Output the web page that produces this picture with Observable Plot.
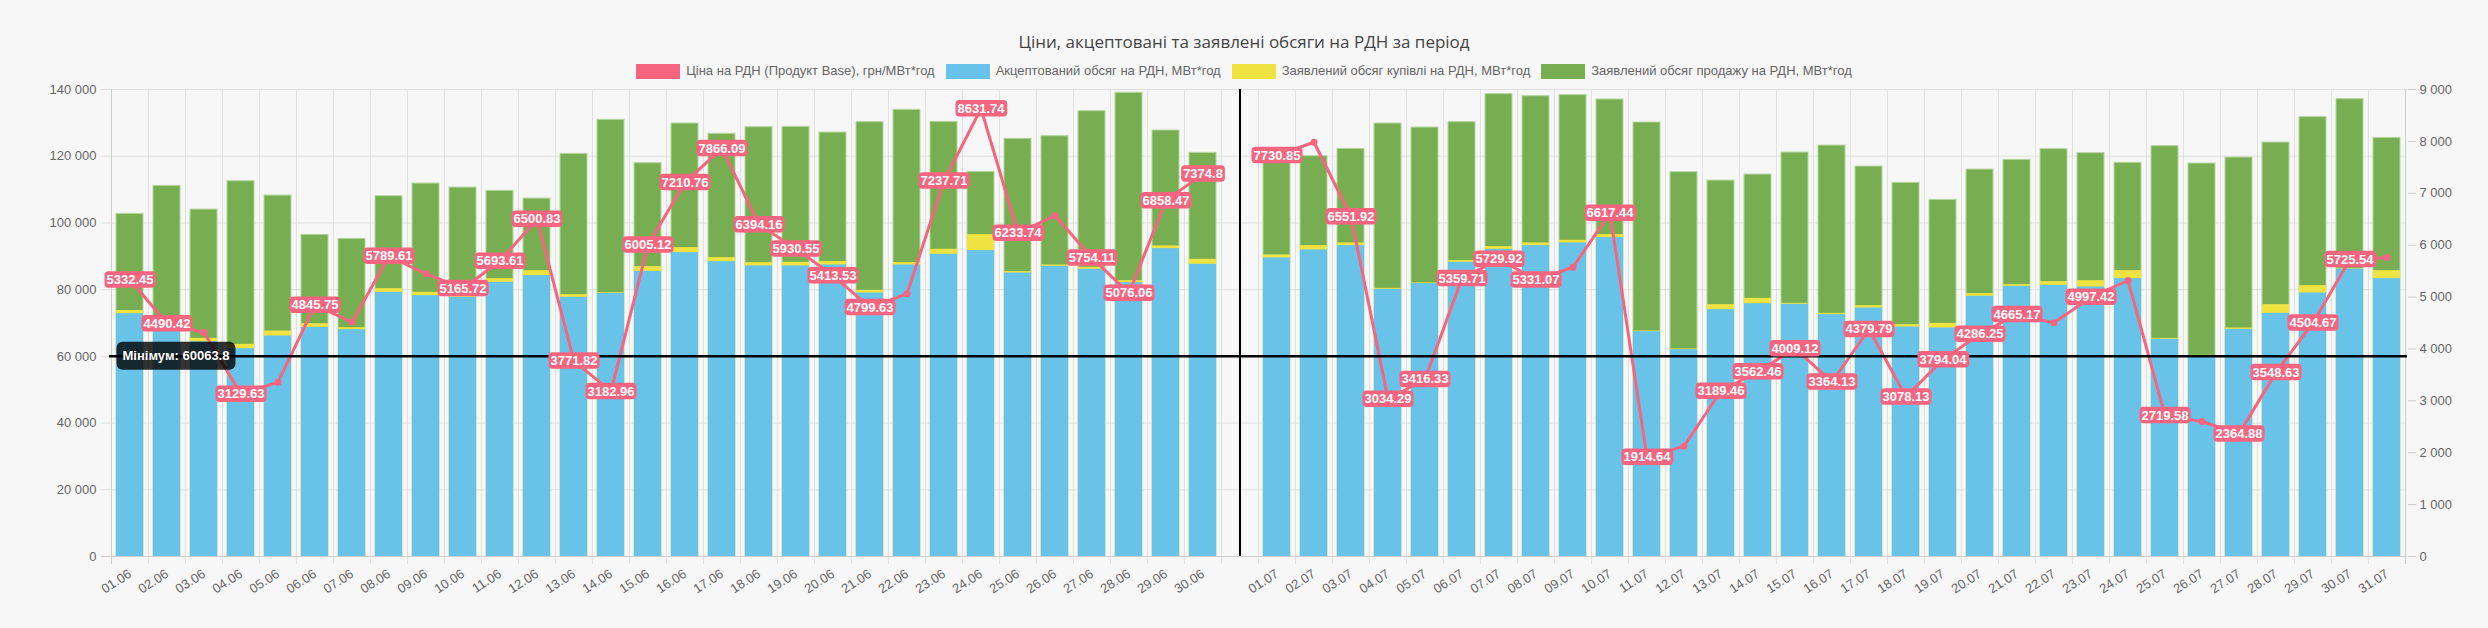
<!DOCTYPE html>
<html>
<head>
<meta charset="utf-8">
<script src="https://cdn.jsdelivr.net/npm/d3@7"></script>
<script src="https://cdn.jsdelivr.net/npm/@observablehq/plot@0.6"></script>
<style>
  html, body { margin: 0; padding: 0; background: #f7f7f7; }
  #wrap { width: 2488px; height: 628px; position: relative; overflow: hidden; background: #f7f7f7; }
  #title { position: absolute; top: 29px; left: 0; width: 2488px; text-align: center;
           font: 17px "Open Sans", "Noto Sans", sans-serif; color: #444; line-height: 26px; }
  #legend { position: absolute; top: 62px; left: 0; width: 2488px; display: flex; justify-content: center;
            gap: 11px; font: 13px "Liberation Sans", Arial, sans-serif;
            color: #666; line-height: 18px; }
  .item { display: flex; align-items: center; gap: 6px; }
  .sw { width: 44px; height: 15px; display: inline-block; }
  #chart { position: absolute; top: 80px; left: 0; }
</style>
</head>
<body>
<div id="wrap">
  <div id="title">Ціни, акцептовані та заявлені обсяги на РДН за період</div>
  <div id="legend"></div>
  <div id="chart"></div>
</div>
<script>
// ---------- DATA ----------
const juneDays = ["01.06","02.06","03.06","04.06","05.06","06.06","07.06","08.06","09.06","10.06",
  "11.06","12.06","13.06","14.06","15.06","16.06","17.06","18.06","19.06","20.06",
  "21.06","22.06","23.06","24.06","25.06","26.06","27.06","28.06","29.06","30.06"];
const gapLabel = " ";
const julyDays = ["01.07","02.07","03.07","04.07","05.07","06.07","07.07","08.07","09.07","10.07",
  "11.07","12.07","13.07","14.07","15.07","16.07","17.07","18.07","19.07","20.07",
  "21.07","22.07","23.07","24.07","25.07","26.07","27.07","28.07","29.07","30.07","31.07"];

// Ціна на РДН (Продукт Base), грн/МВт*год
const priceJune = [5332.45,4490.42,4317,3129.63,3359,4845.75,4515,5789.61,5448,5165.72,
  5693.61,6500.83,3771.82,3182.96,6005.12,7210.76,7866.09,6394.16,5930.55,5413.53,
  4799.63,5062,7237.71,8631.74,6233.74,6571,5754.11,5076.06,6858.47,7374.8];
const priceJuly = [7730.85,7984,6551.92,3034.29,3416.33,5359.71,5729.92,5331.07,5575,6617.44,
  1914.64,2126,3189.46,3562.46,4009.12,3364.13,4379.79,3078.13,3794.04,4286.25,
  4665.17,4503,4997.42,5319,2719.58,2601,2364.88,3548.63,4504.67,5725.54,5762];

// Акцептований обсяг на РДН, МВт*год
const acceptedJune = [72800,71000,64400,62300,66100,68700,68000,79200,78200,77700,
  82200,84200,77700,78900,85500,91100,88400,87100,87100,87400,
  79000,87400,90600,91700,85000,87000,86100,82100,92300,87600];
const acceptedJuly = [89500,91900,93200,80100,81800,88200,92100,93200,94000,95600,
  67400,62000,74000,75800,75600,72500,74500,68800,68500,78000,
  81000,81300,80800,83300,65100,60063.8,68100,72900,79000,86200,83300];

// Заявлений обсяг купівлі на РДН, МВт*год
const buyJune = [73750,72000,65400,63600,67600,69800,68600,80300,79200,78700,
  83300,85700,78500,79100,86900,92600,89600,88100,88200,88400,
  79800,88100,92100,96500,85400,87400,86700,82700,93100,89100];
const buyJuly = [90400,93200,94000,80400,82000,88700,92900,94000,94800,96500,
  67600,62200,75500,77400,75900,72900,75200,69500,69900,78800,
  81500,82400,82700,85700,65400,60300,68500,75500,81200,86400,85700];

// Заявлений обсяг продажу на РДН, МВт*год
const sellJune = [102700,111100,104000,112500,108200,96400,95200,108000,111800,110600,
  109600,107300,120700,130900,117900,129800,126700,128700,128800,127100,
  130200,133900,130300,115300,125200,126000,133500,139000,127700,121000];
const sellJuly = [119500,120000,122200,129800,128600,130200,138600,138000,138300,137000,
  130100,115200,112700,114500,121100,123200,116900,112000,106900,116000,
  118900,122100,120900,118000,123000,117800,119600,124100,131700,137100,125500];

const leftTicks = [0, 20000, 40000, 60000, 80000, 100000, 120000, 140000];
const rightTicks = [0, 1000, 2000, 3000, 4000, 5000, 6000, 7000, 8000, 9000];

const seriesNames = ["Ціна на РДН (Продукт Base), грн/МВт*год", "Акцептований обсяг на РДН, МВт*год",
  "Заявлений обсяг купівлі на РДН, МВт*год", "Заявлений обсяг продажу на РДН, МВт*год"];

// ---------- STYLE ----------
const PINK = "#f6657f", BLUE = "#69c3e8", YELLOW = "#efe342", GREEN = "#77ae52";
const FONT = '"Liberation Sans", Arial, sans-serif';
const W = 2488, H = 548, ML = 109, MR = 81, MT = 9, MB = 72;

// ---------- BUILD ----------
const categories = [...juneDays, gapLabel, ...julyDays];
const price = [...priceJune, null, ...priceJuly];
const accepted = [...acceptedJune, null, ...acceptedJuly];
const buy = [...buyJune, null, ...buyJuly];
const sell = [...sellJune, null, ...sellJuly];
const rows = categories.map((c, i) => ({cat: c, price: price[i], acc: accepted[i], buy: buy[i], sell: sell[i]}));
const vols = rows.filter(r => r.sell != null);
const priced = rows.filter(r => r.price != null);
const minAccepted = d3.min(accepted);

const K = 140000 / 9000; // price -> left axis units
const step = (W - ML - MR) / categories.length;
const loc = d3.formatLocale({decimal: ".", thousands: " ", grouping: [3], currency: ["", ""]});
const fmt = loc.format(",d");

// legend
const legendColors = [PINK, BLUE, YELLOW, GREEN];
document.getElementById("legend").innerHTML = seriesNames.map((n, i) =>
  `<span class="item"><span class="sw" style="background:${legendColors[i]}"></span><span>${n}</span></span>`).join("");

const chart = Plot.plot({
  width: W, height: H,
  marginLeft: ML, marginRight: MR, marginTop: MT, marginBottom: MB,
  style: {background: "transparent", fontFamily: FONT, fontSize: "13px", color: "#666", overflow: "visible"},
  x: {domain: categories, paddingInner: 0.28, paddingOuter: 0.14, label: null},
  y: {domain: [0, 140000], label: null},
  marks: [
    Plot.ruleY(leftTicks.slice(1), {stroke: "#e0e0e0", insetLeft: -8}),
    Plot.ruleX(categories.slice(1), {x: d => d, dx: -step / 2, stroke: "#e0e0e0", insetBottom: -8}),
    Plot.ruleX([categories[0]], {x: d => d, dx: -step / 2, stroke: "#cccccc", insetBottom: -8}),
    Plot.ruleX([categories[categories.length - 1]], {x: d => d, dx: step / 2, stroke: "#cccccc", insetBottom: -8}),
    Plot.barY(vols, {x: "cat", y: "sell", fill: GREEN, stroke: "#b3d59c", strokeWidth: 1}),
    Plot.barY(vols, {x: "cat", y: "buy", fill: YELLOW}),
    Plot.barY(vols, {x: "cat", y: "acc", fill: BLUE}),
    Plot.ruleY([0], {stroke: "#cccccc", insetLeft: -8}),
    Plot.axisY(leftTicks, {anchor: "left", tickSize: 0, tickPadding: 13, tickFormat: fmt, label: null, fontSize: 13}),
    Plot.axisY(rightTicks.map(v => v * K), {anchor: "right", tickSize: 8, tickPadding: 4, stroke: "#cccccc",
      tickFormat: d => fmt(Math.round(d / K)), label: null, fontSize: 13}),
    Plot.axisX({tickSize: 0, tickRotate: -33, tickPadding: 16, label: null, fontSize: 13}),
    Plot.line(rows, {x: "cat", y: r => r.price == null ? NaN : r.price * K, stroke: PINK, strokeWidth: 3}),
    Plot.dot(priced, {x: "cat", y: r => r.price * K, r: 3.5, fill: PINK}),
    Plot.ruleX([gapLabel], {x: d => d, stroke: "#000", strokeWidth: 2}),
    Plot.ruleY([minAccepted], {stroke: "#000", strokeWidth: 2.5}),
    Plot.text([minAccepted], {frameAnchor: "left", y: d => d, dx: 13, text: d => `Мінімум: ${d}`,
      textAnchor: "start", lineAnchor: "middle", fill: "white", fontWeight: "bold", fontSize: 13}),
    Plot.text(priced, {x: "cat", y: r => r.price * K, text: r => String(r.price), lineAnchor: "middle",
      fill: "white", fontWeight: "bold", fontSize: 13})
  ]
});
document.getElementById("chart").appendChild(chart);

const NS = "http://www.w3.org/2000/svg";
function backRect(t, padX, h, rx, fill) {
  const b = t.getBBox();
  const r = document.createElementNS(NS, "rect");
  const cy = b.y + b.height / 2;
  r.setAttribute("x", b.x - padX);
  r.setAttribute("y", cy - h / 2);
  r.setAttribute("width", b.width + 2 * padX);
  r.setAttribute("height", h);
  r.setAttribute("rx", rx);
  r.setAttribute("fill", fill);
  if (t.getAttribute("transform")) r.setAttribute("transform", t.getAttribute("transform"));
  t.parentNode.insertBefore(r, t);
}
const textGroups = chart.querySelectorAll('g[aria-label="text"]');
// min label background
const mg = textGroups[0];
mg.querySelectorAll("text").forEach(t => backRect(t, 6, 28, 6, "rgba(0,0,0,0.8)"));
// price labels: hide overlapping ones (auto display), add rounded background
const pg = textGroups[1];
const shown = [];
[...pg.querySelectorAll("text")].forEach(t => {
  const c = t.getBoundingClientRect();
  const cy = (c.top + c.bottom) / 2;
  const box = {l: c.left - 2, r: c.right + 2, t: cy - 9.2, b: cy + 9.2};
  const hit = shown.some(s => box.l < s.r && box.r > s.l && box.t < s.b && box.b > s.t);
  if (hit) { t.remove(); return; }
  shown.push(box);
  backRect(t, 2, 16.5, 4, PINK);
});
</script>
</body>
</html>
